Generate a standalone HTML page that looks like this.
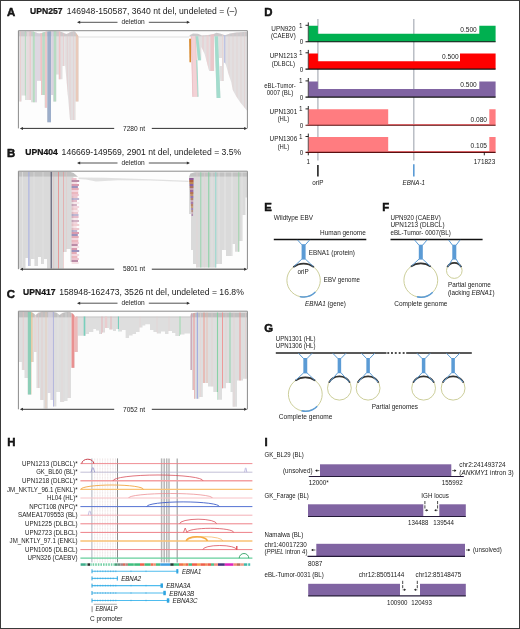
<!DOCTYPE html>
<html lang="en"><head><meta charset="utf-8"><title>EBV deletions figure</title>
<style>
html,body{margin:0;padding:0;background:#fff}
body{width:520px;height:629px;overflow:hidden}
svg{display:block;will-change:transform}
text{font-family:"Liberation Sans", Arial, Helvetica, sans-serif;fill:#1a1a1a}
</style></head><body>
<svg width="520" height="629" viewBox="0 0 520 629">
<rect x="0" y="0" width="520" height="629" fill="#fff"/>
<text x="7.00" y="16.40" font-size="11.4" font-weight="bold" fill="#000" stroke="#000" stroke-width="0.45">A</text>
<text x="30.10" y="14.00" font-size="8.2" font-weight="bold" textLength="32.40" lengthAdjust="spacingAndGlyphs" fill="#000" stroke="#000" stroke-width="0.22">UPN257</text>
<text x="66.70" y="14.00" font-size="8.2" textLength="170.50" lengthAdjust="spacingAndGlyphs"> 146948-150587, 3640 nt del, undeleted = (–)</text>
<line x1="78.50" y1="22.30" x2="117.50" y2="22.30" stroke="#333" stroke-width="0.85"/>
<line x1="148.80" y1="22.30" x2="188.50" y2="22.30" stroke="#333" stroke-width="0.85"/>
<path d="M77.00 22.30 l3.2 -1.5 v3 z" fill="#333"/>
<path d="M190.00 22.30 l-3.2 -1.5 v3 z" fill="#333"/>
<text x="133.15" y="24.20" font-size="6.4" text-anchor="middle" textLength="23.20" lengthAdjust="spacingAndGlyphs">deletion</text>
<rect x="18.40" y="30.70" width="229.00" height="97.70" fill="#fdfdfd"/>
<clipPath id="rc1"><path d="M18.40 36.20 L18.40 101.50 L21.70 101.50 L21.70 95.40 L25.50 95.40 L25.50 100.00 L31.00 100.00 L31.00 102.30 L37.00 102.30 L37.00 80.80 L41.00 80.80 L41.00 95.00 L44.80 95.00 L44.80 107.70 L47.00 107.70 L47.00 122.30 L51.00 122.30 L51.00 95.00 L53.20 95.00 L53.20 101.50 L56.30 101.50 L56.30 74.60 L58.60 74.60 L58.60 79.20 L62.50 79.20 L62.50 66.00 L64.80 66.00 L64.80 36.20 Z"/><path d="M64.80 36.20 L78.60 36.20 L78.60 101.50 L75.50 101.50 L75.50 120.00 L70.00 120.00 L67.40 90.00 L64.80 62.00 Z"/><path d="M191.00 36.20 L195.60 36.20 L197.80 96.80 L192.60 96.80 Z"/><path d="M195.40 36.20 L214.20 36.20 L214.20 71.00 L209.20 71.00 L204.60 54.00 L201.40 47.00 L201.20 60.20 L197.60 60.20 Z"/><path d="M214.60 36.20 L218.00 36.20 L220.40 98.00 L216.60 98.00 Z"/><path d="M218.00 36.20 L224.00 36.20 L224.00 81.00 L220.20 81.00 L219.60 66.00 L222.00 66.00 L222.00 58.00 L218.80 58.00 Z"/><path d="M224.00 36.20 L247.30 36.20 L247.30 111.00 L244.00 107.00 L240.00 102.00 L236.00 96.00 L232.80 90.00 L231.20 82.00 L228.50 74.00 L225.60 63.70 L224.00 62.30 Z"/><path d="M18.4 31.2 H30 Q33 31.2 36 32.4 Q39.5 34.6 43 32.4 Q46 31.2 52 31.2 H58 Q62 31.4 65 33.6 Q67 34.6 69.5 32.6 Q72 31.2 75 31.6 L78.6 36.4 H18.4 Z"/><path d="M189 36.4 L190 35 L193 33.4 L198 33.8 L202 35.6 L208 35 L213 34.2 L216.5 32.8 L220 33.6 L225 35.2 L230 33.6 L236 32.4 L247.3 31.8 V36.4 Z"/></clipPath>
<g fill="#e2dfe0"><path d="M18.40 36.20 L18.40 101.50 L21.70 101.50 L21.70 95.40 L25.50 95.40 L25.50 100.00 L31.00 100.00 L31.00 102.30 L37.00 102.30 L37.00 80.80 L41.00 80.80 L41.00 95.00 L44.80 95.00 L44.80 107.70 L47.00 107.70 L47.00 122.30 L51.00 122.30 L51.00 95.00 L53.20 95.00 L53.20 101.50 L56.30 101.50 L56.30 74.60 L58.60 74.60 L58.60 79.20 L62.50 79.20 L62.50 66.00 L64.80 66.00 L64.80 36.20 Z"/><path d="M64.80 36.20 L78.60 36.20 L78.60 101.50 L75.50 101.50 L75.50 120.00 L70.00 120.00 L67.40 90.00 L64.80 62.00 Z"/><path d="M191.00 36.20 L195.60 36.20 L197.80 96.80 L192.60 96.80 Z"/><path d="M195.40 36.20 L214.20 36.20 L214.20 71.00 L209.20 71.00 L204.60 54.00 L201.40 47.00 L201.20 60.20 L197.60 60.20 Z"/><path d="M214.60 36.20 L218.00 36.20 L220.40 98.00 L216.60 98.00 Z"/><path d="M218.00 36.20 L224.00 36.20 L224.00 81.00 L220.20 81.00 L219.60 66.00 L222.00 66.00 L222.00 58.00 L218.80 58.00 Z"/><path d="M224.00 36.20 L247.30 36.20 L247.30 111.00 L244.00 107.00 L240.00 102.00 L236.00 96.00 L232.80 90.00 L231.20 82.00 L228.50 74.00 L225.60 63.70 L224.00 62.30 Z"/></g>
<g fill="#cbc9cb"><path d="M18.4 31.2 H30 Q33 31.2 36 32.4 Q39.5 34.6 43 32.4 Q46 31.2 52 31.2 H58 Q62 31.4 65 33.6 Q67 34.6 69.5 32.6 Q72 31.2 75 31.6 L78.6 36.4 H18.4 Z"/><path d="M189 36.4 L190 35 L193 33.4 L198 33.8 L202 35.6 L208 35 L213 34.2 L216.5 32.8 L220 33.6 L225 35.2 L230 33.6 L236 32.4 L247.3 31.8 V36.4 Z"/></g>
<path d="M191.00 36.20 L195.60 36.20 L197.80 96.80 L192.60 96.80 Z" fill="#f3d2d6"/>
<line x1="191.20" y1="36.20" x2="192.80" y2="96.80" stroke="#eab4ba" stroke-width="0.6"/>
<line x1="195.60" y1="36.20" x2="197.60" y2="96.80" stroke="#eab4ba" stroke-width="0.5"/>
<path d="M195.60 36.20 L198.20 36.20 L201.00 60.20 L198.00 60.20 Z" fill="#a3dccd"/>
<path d="M196.20 60.00 L197.40 60.00 L198.60 96.80 L197.60 96.80 Z" fill="#a3dccd"/>
<path d="M214.60 36.20 L218.00 36.20 L220.40 98.00 L216.60 98.00 Z" fill="#a3dccd"/>
<path d="M189.10 38.70 L191.00 38.70 L191.00 62.30 L189.50 62.30 Z" fill="#d88a2e"/>
<g clip-path="url(#rc1)">
<rect x="20.25" y="30.70" width="0.70" height="97.70" fill="#efc0c2" fill-opacity="0.7"/>
<rect x="24.90" y="30.70" width="1.00" height="97.70" fill="#aedabc" fill-opacity="0.9"/>
<rect x="26.90" y="30.70" width="2.60" height="97.70" fill="#e8d8dc" fill-opacity="0.7"/>
<rect x="29.75" y="30.70" width="0.90" height="97.70" fill="#efc0c2" fill-opacity="0.9"/>
<rect x="32.80" y="30.70" width="2.00" height="97.70" fill="#aedabc" fill-opacity="0.85"/>
<rect x="35.00" y="30.70" width="5.20" height="97.70" fill="#d8cfe2" fill-opacity="0.55"/>
<rect x="40.30" y="30.70" width="1.80" height="97.70" fill="#efc0c2" fill-opacity="0.9"/>
<rect x="42.30" y="30.70" width="2.60" height="97.70" fill="#aedabc" fill-opacity="0.75"/>
<rect x="45.10" y="30.70" width="1.80" height="97.70" fill="#efc0c2" fill-opacity="0.85"/>
<rect x="47.40" y="30.70" width="3.60" height="97.70" fill="#8fa6c6" fill-opacity="0.85"/>
<rect x="51.40" y="30.70" width="2.20" height="97.70" fill="#d8cfe2" fill-opacity="0.9"/>
<rect x="53.70" y="30.70" width="2.60" height="97.70" fill="#aedabc" fill-opacity="0.85"/>
<rect x="58.80" y="30.70" width="1.60" height="97.70" fill="#efc0c2" fill-opacity="0.9"/>
<rect x="63.10" y="30.70" width="0.80" height="97.70" fill="#efc0c2" fill-opacity="0.6"/>
<rect x="66.80" y="30.70" width="0.80" height="97.70" fill="#e6c4c4" fill-opacity="0.7"/>
<rect x="69.65" y="30.70" width="0.70" height="97.70" fill="#e6c4c4" fill-opacity="0.6"/>
<rect x="73.05" y="30.70" width="0.70" height="97.70" fill="#e6c4c4" fill-opacity="0.6"/>
<rect x="75.80" y="30.70" width="2.80" height="97.70" fill="#ecbfa6" fill-opacity="0.65"/>
<rect x="210.40" y="30.70" width="3.60" height="97.70" fill="#eec0c4" fill-opacity="0.8"/>
<rect x="206.50" y="30.70" width="2.20" height="97.70" fill="#eecdd0" fill-opacity="0.7"/>
<rect x="202.50" y="30.70" width="1.00" height="97.70" fill="#efc0c2" fill-opacity="0.6"/>
<rect x="222.20" y="30.70" width="0.80" height="97.70" fill="#e8d0d0" fill-opacity="0.8"/>
<rect x="224.10" y="30.70" width="1.20" height="97.70" fill="#b4bce4" fill-opacity="0.9"/>
<rect x="228.65" y="30.70" width="0.70" height="97.70" fill="#e4cccc" fill-opacity="0.7"/>
<rect x="232.65" y="30.70" width="0.70" height="97.70" fill="#e4cccc" fill-opacity="0.7"/>
<rect x="236.65" y="30.70" width="0.70" height="97.70" fill="#e4cccc" fill-opacity="0.7"/>
<rect x="240.65" y="30.70" width="0.70" height="97.70" fill="#e4cccc" fill-opacity="0.7"/>
<rect x="244.25" y="30.70" width="0.70" height="97.70" fill="#e4cccc" fill-opacity="0.7"/>
</g>
<line x1="78.60" y1="37.00" x2="189.00" y2="37.00" stroke="#cfcfcf" stroke-width="0.6"/>
<path d="M18.40 128.40 V30.70 H247.40 V128.40" fill="none" stroke="#8a8a8a" stroke-width="1.0"/>
<line x1="21.30" y1="128.40" x2="114.20" y2="128.40" stroke="#333" stroke-width="1.0"/>
<line x1="151.80" y1="128.40" x2="245.80" y2="128.40" stroke="#333" stroke-width="1.0"/>
<path d="M19.80 128.40 l3.2 -1.5 v3 z" fill="#333"/>
<path d="M247.30 128.40 l-3.2 -1.5 v3 z" fill="#333"/>
<text x="134.00" y="130.65" font-size="6.8" text-anchor="middle" textLength="22.00" lengthAdjust="spacingAndGlyphs">7280 nt</text>
<text x="6.90" y="157.00" font-size="11.4" font-weight="bold" fill="#000" stroke="#000" stroke-width="0.45">B</text>
<text x="25.30" y="154.50" font-size="8.2" font-weight="bold" textLength="32.40" lengthAdjust="spacingAndGlyphs" fill="#000" stroke="#000" stroke-width="0.22">UPN404</text>
<text x="61.60" y="154.50" font-size="8.2" textLength="179.60" lengthAdjust="spacingAndGlyphs"> 146669-149569, 2901 nt del, undeleted = 3.5%</text>
<line x1="78.50" y1="163.00" x2="117.50" y2="163.00" stroke="#333" stroke-width="0.85"/>
<line x1="148.80" y1="163.00" x2="188.50" y2="163.00" stroke="#333" stroke-width="0.85"/>
<path d="M77.00 163.00 l3.2 -1.5 v3 z" fill="#333"/>
<path d="M190.00 163.00 l-3.2 -1.5 v3 z" fill="#333"/>
<text x="133.15" y="164.90" font-size="6.4" text-anchor="middle" textLength="23.20" lengthAdjust="spacingAndGlyphs">deletion</text>
<rect x="18.40" y="171.20" width="229.00" height="98.00" fill="#fdfdfd"/>
<clipPath id="rc2"><path d="M18.40 176.60 L18.40 268.60 L25.50 268.60 L25.50 258.00 L28.00 258.00 L28.00 266.00 L31.00 266.00 L31.00 259.00 L34.50 259.00 L34.50 266.00 L38.00 266.00 L38.00 257.00 L41.00 257.00 L41.00 264.00 L44.00 264.00 L44.00 259.00 L47.00 259.00 L47.00 268.60 L63.50 268.60 L63.50 252.00 L66.50 252.00 L66.50 249.00 L70.40 249.00 L70.40 262.00 L73.40 262.00 L73.40 176.60 Z"/><path d="M189.00 176.60 L189.00 214.00 L191.00 214.00 L191.00 250.00 L193.00 250.00 L193.00 264.00 L196.00 264.00 L196.00 267.60 L216.40 267.60 L216.40 264.00 L222.00 264.00 L222.00 250.00 L226.00 250.00 L226.00 256.00 L232.50 256.00 L232.50 244.00 L235.00 244.00 L235.00 251.80 L239.50 251.80 L239.50 241.00 L242.50 241.00 L242.50 215.00 L245.50 215.00 L245.50 197.50 L247.30 197.50 L247.30 176.60 Z"/><path d="M18.4 171.7 H70 L73.6 173 L78 176.8 H18.4 Z"/><path d="M189 176.8 L190.4 173.4 L195 172.2 H247.3 V176.8 Z"/></clipPath>
<g fill="#dadada"><path d="M18.40 176.60 L18.40 268.60 L25.50 268.60 L25.50 258.00 L28.00 258.00 L28.00 266.00 L31.00 266.00 L31.00 259.00 L34.50 259.00 L34.50 266.00 L38.00 266.00 L38.00 257.00 L41.00 257.00 L41.00 264.00 L44.00 264.00 L44.00 259.00 L47.00 259.00 L47.00 268.60 L63.50 268.60 L63.50 252.00 L66.50 252.00 L66.50 249.00 L70.40 249.00 L70.40 262.00 L73.40 262.00 L73.40 176.60 Z"/><path d="M189.00 176.60 L189.00 214.00 L191.00 214.00 L191.00 250.00 L193.00 250.00 L193.00 264.00 L196.00 264.00 L196.00 267.60 L216.40 267.60 L216.40 264.00 L222.00 264.00 L222.00 250.00 L226.00 250.00 L226.00 256.00 L232.50 256.00 L232.50 244.00 L235.00 244.00 L235.00 251.80 L239.50 251.80 L239.50 241.00 L242.50 241.00 L242.50 215.00 L245.50 215.00 L245.50 197.50 L247.30 197.50 L247.30 176.60 Z"/></g>
<g fill="#c2c2c2"><path d="M18.4 171.7 H70 L73.6 173 L78 176.8 H18.4 Z"/><path d="M189 176.8 L190.4 173.4 L195 172.2 H247.3 V176.8 Z"/></g>
<path d="M78.5 177.4 L104 177.8 L150 179.2 L188.5 180.8 L188.5 182 L150 180.6 L118 180.2 L96 181.6 L86 179.6 L78.5 179 Z" fill="#dcdcdc" fill-opacity="0.85"/>
<rect x="71.6" y="178.0" width="5.0" height="2.0" fill="#ecbcc9" fill-opacity="0.9"/>
<rect x="71.6" y="180.0" width="7.6" height="2.0" fill="#b5819f" fill-opacity="0.9"/>
<rect x="71.6" y="182.0" width="5.7" height="2.0" fill="#f4dde1" fill-opacity="0.9"/>
<rect x="71.6" y="184.0" width="7.4" height="2.0" fill="#d590a6" fill-opacity="0.9"/>
<rect x="71.6" y="186.0" width="6.3" height="2.0" fill="#9487b6" fill-opacity="0.9"/>
<rect x="71.6" y="188.0" width="7.1" height="2.0" fill="#e2a3af" fill-opacity="0.9"/>
<rect x="71.6" y="190.0" width="6.8" height="2.0" fill="#f3d3db" fill-opacity="0.9"/>
<rect x="71.6" y="192.0" width="6.6" height="2.0" fill="#eab0b8" fill-opacity="0.9"/>
<rect x="71.6" y="194.0" width="7.2" height="2.0" fill="#ecbcc9" fill-opacity="0.9"/>
<rect x="71.6" y="196.0" width="6.0" height="2.0" fill="#e2a3af" fill-opacity="0.6"/>
<rect x="71.6" y="198.0" width="7.5" height="2.0" fill="#9487b6" fill-opacity="0.6"/>
<rect x="71.6" y="200.0" width="5.4" height="2.0" fill="#d590a6" fill-opacity="0.6"/>
<rect x="71.6" y="202.0" width="7.6" height="2.0" fill="#f4dde1" fill-opacity="0.6"/>
<rect x="71.6" y="204.0" width="5.3" height="2.0" fill="#b5819f" fill-opacity="0.6"/>
<rect x="71.6" y="206.0" width="7.5" height="2.0" fill="#ecbcc9" fill-opacity="0.6"/>
<rect x="71.6" y="208.0" width="5.9" height="2.0" fill="#eab0b8" fill-opacity="0.6"/>
<rect x="71.6" y="210.0" width="7.3" height="2.0" fill="#f3d3db" fill-opacity="0.6"/>
<rect x="71.6" y="212.0" width="6.5" height="2.0" fill="#e2a3af" fill-opacity="0.6"/>
<rect x="71.6" y="214.0" width="6.9" height="2.0" fill="#9487b6" fill-opacity="0.6"/>
<rect x="71.6" y="216.0" width="7.0" height="2.0" fill="#d590a6" fill-opacity="0.6"/>
<rect x="71.6" y="218.0" width="6.4" height="2.0" fill="#f4dde1" fill-opacity="0.6"/>
<rect x="71.6" y="220.0" width="7.4" height="2.0" fill="#b5819f" fill-opacity="0.6"/>
<rect x="71.6" y="222.0" width="5.8" height="2.0" fill="#ecbcc9" fill-opacity="0.6"/>
<rect x="71.6" y="224.0" width="7.6" height="2.0" fill="#eab0b8" fill-opacity="0.6"/>
<rect x="71.6" y="226.0" width="5.1" height="2.0" fill="#f3d3db" fill-opacity="0.6"/>
<rect x="71.6" y="228.0" width="7.6" height="2.0" fill="#e2a3af" fill-opacity="0.6"/>
<rect x="71.6" y="230.0" width="5.6" height="2.0" fill="#9487b6" fill-opacity="0.6"/>
<rect x="71.6" y="232.0" width="7.4" height="2.0" fill="#d590a6" fill-opacity="0.9"/>
<rect x="71.6" y="234.0" width="6.2" height="2.0" fill="#9487b6" fill-opacity="0.9"/>
<rect x="71.6" y="236.0" width="7.1" height="2.0" fill="#e2a3af" fill-opacity="0.9"/>
<rect x="71.6" y="238.0" width="6.7" height="2.0" fill="#f3d3db" fill-opacity="0.9"/>
<rect x="71.6" y="240.0" width="6.7" height="2.0" fill="#eab0b8" fill-opacity="0.9"/>
<rect x="71.6" y="242.0" width="7.2" height="2.0" fill="#ecbcc9" fill-opacity="0.9"/>
<rect x="71.6" y="244.0" width="6.1" height="2.0" fill="#b5819f" fill-opacity="0.9"/>
<rect x="71.6" y="246.0" width="7.5" height="2.0" fill="#f4dde1" fill-opacity="0.9"/>
<rect x="71.6" y="248.0" width="5.5" height="2.0" fill="#d590a6" fill-opacity="0.9"/>
<rect x="71.6" y="250.0" width="7.6" height="2.0" fill="#9487b6" fill-opacity="0.9"/>
<rect x="71.6" y="252.0" width="5.2" height="2.0" fill="#e2a3af" fill-opacity="0.9"/>
<rect x="71.6" y="254.0" width="7.5" height="2.0" fill="#f3d3db" fill-opacity="0.9"/>
<rect x="71.6" y="256.0" width="5.8" height="2.0" fill="#eab0b8" fill-opacity="0.9"/>
<rect x="71.6" y="258.0" width="7.3" height="2.0" fill="#ecbcc9" fill-opacity="0.9"/>
<rect x="71.6" y="260.0" width="6.4" height="2.0" fill="#b5819f" fill-opacity="0.9"/>
<rect x="71.6" y="262.0" width="7.0" height="2.0" fill="#f4dde1" fill-opacity="0.9"/>
<rect x="189.20" y="178.0" width="4.4" height="2.0" fill="#8a4a8e" fill-opacity="0.90"/>
<rect x="189.33" y="180.0" width="4.2" height="2.0" fill="#a8502c" fill-opacity="0.88"/>
<rect x="189.46" y="182.0" width="4.1" height="2.0" fill="#b8783f" fill-opacity="0.86"/>
<rect x="189.59" y="184.0" width="3.9" height="2.0" fill="#7a4a9a" fill-opacity="0.84"/>
<rect x="189.72" y="186.0" width="3.8" height="2.0" fill="#a05a40" fill-opacity="0.82"/>
<rect x="189.85" y="188.0" width="3.6" height="2.0" fill="#c090a4" fill-opacity="0.80"/>
<rect x="189.98" y="190.0" width="3.4" height="2.0" fill="#8a4a8e" fill-opacity="0.78"/>
<rect x="190.11" y="192.0" width="3.3" height="2.0" fill="#a8502c" fill-opacity="0.76"/>
<rect x="190.24" y="194.0" width="3.1" height="2.0" fill="#b8783f" fill-opacity="0.74"/>
<rect x="190.37" y="196.0" width="3.0" height="2.0" fill="#7a4a9a" fill-opacity="0.72"/>
<rect x="190.50" y="198.0" width="2.8" height="2.0" fill="#a05a40" fill-opacity="0.70"/>
<rect x="190.63" y="200.0" width="2.6" height="2.0" fill="#c090a4" fill-opacity="0.68"/>
<rect x="190.76" y="202.0" width="2.5" height="2.0" fill="#8a4a8e" fill-opacity="0.66"/>
<rect x="190.89" y="204.0" width="2.3" height="2.0" fill="#a8502c" fill-opacity="0.64"/>
<rect x="191.02" y="206.0" width="2.2" height="2.0" fill="#b8783f" fill-opacity="0.62"/>
<rect x="191.15" y="208.0" width="2.0" height="2.0" fill="#7a4a9a" fill-opacity="0.60"/>
<rect x="191.28" y="210.0" width="1.8" height="2.0" fill="#a05a40" fill-opacity="0.58"/>
<rect x="191.41" y="212.0" width="1.7" height="2.0" fill="#c090a4" fill-opacity="0.56"/>
<rect x="191.54" y="214.0" width="1.5" height="2.0" fill="#8a4a8e" fill-opacity="0.54"/>
<g clip-path="url(#rc2)">
<rect x="28.45" y="171.20" width="0.90" height="98.00" fill="#9fa9e6" fill-opacity="0.95"/>
<rect x="50.70" y="171.20" width="1.00" height="98.00" fill="#3a3a58" fill-opacity="0.9"/>
<rect x="53.50" y="171.20" width="0.60" height="98.00" fill="#e6b3b3" fill-opacity="0.7"/>
<rect x="58.20" y="171.20" width="0.80" height="98.00" fill="#e77" fill-opacity="0.8"/>
<rect x="63.05" y="171.20" width="0.70" height="98.00" fill="#e88" fill-opacity="0.7"/>
<rect x="66.20" y="171.20" width="0.60" height="98.00" fill="#efc0c2" fill-opacity="0.6"/>
<rect x="22.20" y="171.20" width="0.60" height="98.00" fill="#e9e9e9" fill-opacity="0.9"/>
<rect x="33.70" y="171.20" width="0.60" height="98.00" fill="#e6e6e6" fill-opacity="0.9"/>
<rect x="42.70" y="171.20" width="0.60" height="98.00" fill="#e6e6e6" fill-opacity="0.9"/>
<rect x="200.35" y="171.20" width="0.90" height="98.00" fill="#8ad4a4" fill-opacity="0.9"/>
<rect x="208.35" y="171.20" width="0.90" height="98.00" fill="#77cf98" fill-opacity="0.95"/>
<rect x="215.35" y="171.20" width="0.90" height="98.00" fill="#86d8ca" fill-opacity="0.95"/>
<rect x="238.35" y="171.20" width="0.90" height="98.00" fill="#8fd3a0" fill-opacity="0.9"/>
<rect x="196.70" y="171.20" width="0.60" height="98.00" fill="#e6cfcf" fill-opacity="0.7"/>
<rect x="204.30" y="171.20" width="0.60" height="98.00" fill="#e6cfcf" fill-opacity="0.6"/>
<rect x="211.70" y="171.20" width="0.60" height="98.00" fill="#e6e6e6" fill-opacity="0.9"/>
<rect x="218.70" y="171.20" width="0.60" height="98.00" fill="#ececec" fill-opacity="0.9"/>
<rect x="224.65" y="171.20" width="0.70" height="98.00" fill="#ececec" fill-opacity="0.9"/>
<rect x="231.65" y="171.20" width="0.70" height="98.00" fill="#ececec" fill-opacity="0.9"/>
<rect x="241.70" y="171.20" width="0.60" height="98.00" fill="#ececec" fill-opacity="0.9"/>
</g>
<path d="M18.40 269.20 V171.20 H247.40 V269.20" fill="none" stroke="#8a8a8a" stroke-width="1.0"/>
<line x1="21.30" y1="269.20" x2="114.20" y2="269.20" stroke="#333" stroke-width="1.0"/>
<line x1="151.80" y1="269.20" x2="245.80" y2="269.20" stroke="#333" stroke-width="1.0"/>
<path d="M19.80 269.20 l3.2 -1.5 v3 z" fill="#333"/>
<path d="M247.30 269.20 l-3.2 -1.5 v3 z" fill="#333"/>
<text x="134.00" y="271.45" font-size="6.8" text-anchor="middle" textLength="22.00" lengthAdjust="spacingAndGlyphs">5801 nt</text>
<text x="6.80" y="297.60" font-size="11.4" font-weight="bold" fill="#000" stroke="#000" stroke-width="0.45">C</text>
<text x="23.10" y="294.50" font-size="8.2" font-weight="bold" textLength="32.30" lengthAdjust="spacingAndGlyphs" fill="#000" stroke="#000" stroke-width="0.22">UPN417</text>
<text x="59.20" y="294.50" font-size="8.2" textLength="184.60" lengthAdjust="spacingAndGlyphs"> 158948-162473, 3526 nt del, undeleted = 16.8%</text>
<line x1="78.50" y1="303.20" x2="117.50" y2="303.20" stroke="#333" stroke-width="0.85"/>
<line x1="148.80" y1="303.20" x2="188.50" y2="303.20" stroke="#333" stroke-width="0.85"/>
<path d="M77.00 303.20 l3.2 -1.5 v3 z" fill="#333"/>
<path d="M190.00 303.20 l-3.2 -1.5 v3 z" fill="#333"/>
<text x="133.15" y="305.10" font-size="6.4" text-anchor="middle" textLength="23.20" lengthAdjust="spacingAndGlyphs">deletion</text>
<rect x="18.40" y="311.20" width="229.00" height="98.10" fill="#fdfdfd"/>
<clipPath id="rc3"><path d="M18.40 317.20 L18.40 362.00 L21.80 362.00 L21.80 370.00 L24.50 370.00 L24.50 378.00 L27.60 378.00 L27.60 394.60 L31.40 394.60 L31.40 362.00 L34.00 362.00 L34.00 352.00 L36.50 352.00 L36.50 388.00 L40.00 388.00 L40.00 400.00 L43.50 400.00 L43.50 408.40 L47.80 408.40 L47.80 393.00 L50.50 393.00 L50.50 400.00 L53.00 400.00 L53.00 406.60 L56.40 406.60 L56.40 392.00 L60.00 392.00 L60.00 402.00 L64.20 402.00 L64.20 401.00 L67.50 401.00 L67.50 398.00 L71.00 398.00 L71.00 367.80 L74.60 367.80 L74.60 352.00 L78.00 352.00 L78.00 335.80 L83.20 335.80 L83.20 335.80 L85.80 335.80 L85.80 334.00 L89.00 334.00 L89.00 332.00 L93.30 332.00 L93.30 329.00 L96.00 329.00 L96.00 330.60 L99.00 330.60 L99.00 334.00 L102.00 334.00 L102.00 332.60 L105.00 332.60 L105.00 328.00 L109.00 328.00 L109.00 329.60 L113.00 329.60 L113.00 331.00 L116.00 331.00 L116.00 329.00 L118.70 329.00 L118.70 331.60 L122.00 331.60 L122.00 330.00 L125.60 330.00 L125.60 338.00 L129.00 338.00 L129.00 335.40 L132.60 335.40 L132.60 334.00 L136.00 334.00 L136.00 332.00 L139.50 332.00 L139.50 327.40 L142.50 327.40 L142.50 325.60 L145.30 325.60 L145.30 324.20 L150.00 324.20 L150.00 330.00 L153.40 330.00 L153.40 332.00 L156.80 332.00 L156.80 333.60 L161.00 333.60 L161.00 331.60 L165.00 331.60 L165.00 334.00 L168.40 334.00 L168.40 331.00 L172.00 331.00 L172.00 333.00 L175.30 333.00 L175.30 336.00 L180.00 336.00 L180.00 334.60 L184.50 334.60 L184.50 333.40 L190.00 333.40 L190.00 370.00 L192.00 370.00 L192.00 390.00 L194.00 390.00 L194.00 398.80 L199.30 398.80 L199.30 397.00 L202.80 397.00 L202.80 383.00 L208.00 383.00 L208.00 386.50 L213.30 386.50 L213.30 392.00 L217.60 392.00 L217.60 399.70 L222.00 399.70 L222.00 388.30 L225.90 388.30 L225.90 383.00 L230.80 383.00 L230.80 392.00 L232.50 392.00 L232.50 406.70 L237.00 406.70 L237.00 380.40 L243.00 380.40 L243.00 378.70 L247.30 378.70 L247.30 317.20 Z"/><path d="M18.4 311.8 H29 Q33 312 35.5 315.2 Q38 312.2 42 311.8 H53 Q57 312 59.5 315 Q62 312.4 66 312 H70 L73 314 L76 317.4 H18.4 Z"/><path d="M76 316.4 H190 V317.4 H76 Z"/><path d="M190 317.4 L191 313.4 L197 312.4 H247.3 V317.4 Z"/></clipPath>
<g fill="#dedede"><path d="M18.40 317.20 L18.40 362.00 L21.80 362.00 L21.80 370.00 L24.50 370.00 L24.50 378.00 L27.60 378.00 L27.60 394.60 L31.40 394.60 L31.40 362.00 L34.00 362.00 L34.00 352.00 L36.50 352.00 L36.50 388.00 L40.00 388.00 L40.00 400.00 L43.50 400.00 L43.50 408.40 L47.80 408.40 L47.80 393.00 L50.50 393.00 L50.50 400.00 L53.00 400.00 L53.00 406.60 L56.40 406.60 L56.40 392.00 L60.00 392.00 L60.00 402.00 L64.20 402.00 L64.20 401.00 L67.50 401.00 L67.50 398.00 L71.00 398.00 L71.00 367.80 L74.60 367.80 L74.60 352.00 L78.00 352.00 L78.00 335.80 L83.20 335.80 L83.20 335.80 L85.80 335.80 L85.80 334.00 L89.00 334.00 L89.00 332.00 L93.30 332.00 L93.30 329.00 L96.00 329.00 L96.00 330.60 L99.00 330.60 L99.00 334.00 L102.00 334.00 L102.00 332.60 L105.00 332.60 L105.00 328.00 L109.00 328.00 L109.00 329.60 L113.00 329.60 L113.00 331.00 L116.00 331.00 L116.00 329.00 L118.70 329.00 L118.70 331.60 L122.00 331.60 L122.00 330.00 L125.60 330.00 L125.60 338.00 L129.00 338.00 L129.00 335.40 L132.60 335.40 L132.60 334.00 L136.00 334.00 L136.00 332.00 L139.50 332.00 L139.50 327.40 L142.50 327.40 L142.50 325.60 L145.30 325.60 L145.30 324.20 L150.00 324.20 L150.00 330.00 L153.40 330.00 L153.40 332.00 L156.80 332.00 L156.80 333.60 L161.00 333.60 L161.00 331.60 L165.00 331.60 L165.00 334.00 L168.40 334.00 L168.40 331.00 L172.00 331.00 L172.00 333.00 L175.30 333.00 L175.30 336.00 L180.00 336.00 L180.00 334.60 L184.50 334.60 L184.50 333.40 L190.00 333.40 L190.00 370.00 L192.00 370.00 L192.00 390.00 L194.00 390.00 L194.00 398.80 L199.30 398.80 L199.30 397.00 L202.80 397.00 L202.80 383.00 L208.00 383.00 L208.00 386.50 L213.30 386.50 L213.30 392.00 L217.60 392.00 L217.60 399.70 L222.00 399.70 L222.00 388.30 L225.90 388.30 L225.90 383.00 L230.80 383.00 L230.80 392.00 L232.50 392.00 L232.50 406.70 L237.00 406.70 L237.00 380.40 L243.00 380.40 L243.00 378.70 L247.30 378.70 L247.30 317.20 Z"/></g>
<g fill="#c0c0c0"><path d="M18.4 311.8 H29 Q33 312 35.5 315.2 Q38 312.2 42 311.8 H53 Q57 312 59.5 315 Q62 312.4 66 312 H70 L73 314 L76 317.4 H18.4 Z"/><path d="M76 316.4 H190 V317.4 H76 Z"/><path d="M190 317.4 L191 313.4 L197 312.4 H247.3 V317.4 Z"/></g>
<g clip-path="url(#rc3)">
<rect x="27.80" y="311.20" width="3.20" height="98.10" fill="#84ccb2" fill-opacity="0.9"/>
<rect x="31.45" y="311.20" width="0.90" height="98.10" fill="#f2b870" fill-opacity="0.9"/>
<rect x="22.85" y="311.20" width="0.70" height="98.10" fill="#efc0c2" fill-opacity="0.7"/>
<rect x="34.60" y="311.20" width="1.60" height="98.10" fill="#ecd4d4" fill-opacity="0.7"/>
<rect x="38.25" y="311.20" width="0.70" height="98.10" fill="#e6c0c0" fill-opacity="0.7"/>
<rect x="41.65" y="311.20" width="0.70" height="98.10" fill="#e6c0c0" fill-opacity="0.7"/>
<rect x="45.60" y="311.20" width="0.80" height="98.10" fill="#ecc4ae" fill-opacity="0.8"/>
<rect x="48.10" y="311.20" width="4.60" height="98.10" fill="#dcd6e6" fill-opacity="0.6"/>
<rect x="52.95" y="311.20" width="0.90" height="98.10" fill="#a9acdc" fill-opacity="0.9"/>
<rect x="57.70" y="311.20" width="0.60" height="98.10" fill="#e8e8e8" fill-opacity="0.9"/>
<rect x="61.70" y="311.20" width="0.60" height="98.10" fill="#e6d0d0" fill-opacity="0.7"/>
<rect x="65.70" y="311.20" width="0.60" height="98.10" fill="#e8e8e8" fill-opacity="0.8"/>
<rect x="68.70" y="311.20" width="0.60" height="98.10" fill="#e6d0d0" fill-opacity="0.7"/>
<rect x="71.20" y="311.20" width="6.40" height="98.10" fill="#f0b2b2" fill-opacity="0.85"/>
<rect x="72.20" y="311.20" width="1.60" height="98.10" fill="#e57777" fill-opacity="0.75"/>
<rect x="83.70" y="311.20" width="1.60" height="98.10" fill="#72cdb9" fill-opacity="0.95"/>
<rect x="101.55" y="311.20" width="0.90" height="98.10" fill="#eba2aa" fill-opacity="0.8"/>
<rect x="104.80" y="311.20" width="2.40" height="98.10" fill="#f0c4c8" fill-opacity="0.7"/>
<rect x="110.60" y="311.20" width="0.80" height="98.10" fill="#eba2aa" fill-opacity="0.8"/>
<rect x="117.90" y="311.20" width="1.00" height="98.10" fill="#62c9b4" fill-opacity="0.9"/>
<rect x="179.50" y="311.20" width="1.00" height="98.10" fill="#8fd6a6" fill-opacity="0.9"/>
<rect x="139.70" y="311.20" width="0.60" height="98.10" fill="#e6cccc" fill-opacity="0.7"/>
<rect x="156.70" y="311.20" width="0.60" height="98.10" fill="#e6cccc" fill-opacity="0.7"/>
<rect x="168.70" y="311.20" width="0.60" height="98.10" fill="#e6cccc" fill-opacity="0.7"/>
<rect x="190.70" y="311.20" width="1.40" height="98.10" fill="#cba4b6" fill-opacity="0.9"/>
<rect x="193.50" y="311.20" width="1.00" height="98.10" fill="#ee8c8c" fill-opacity="0.9"/>
<rect x="196.80" y="311.20" width="1.00" height="98.10" fill="#8f9be0" fill-opacity="0.9"/>
<rect x="203.50" y="311.20" width="1.00" height="98.10" fill="#f0958a" fill-opacity="0.9"/>
<rect x="206.60" y="311.20" width="0.80" height="98.10" fill="#f0b4a4" fill-opacity="0.8"/>
<rect x="200.30" y="311.20" width="0.60" height="98.10" fill="#e8cfcf" fill-opacity="0.8"/>
<rect x="216.95" y="311.20" width="1.10" height="98.10" fill="#7fd0a0" fill-opacity="0.9"/>
<rect x="222.00" y="311.20" width="1.00" height="98.10" fill="#ee9292" fill-opacity="0.9"/>
<rect x="229.50" y="311.20" width="1.00" height="98.10" fill="#86d3a6" fill-opacity="0.9"/>
<rect x="239.50" y="311.20" width="1.00" height="98.10" fill="#ee9090" fill-opacity="0.9"/>
<rect x="211.70" y="311.20" width="0.60" height="98.10" fill="#e6cccc" fill-opacity="0.8"/>
<rect x="225.70" y="311.20" width="0.60" height="98.10" fill="#e6cccc" fill-opacity="0.8"/>
<rect x="233.70" y="311.20" width="0.60" height="98.10" fill="#e6cccc" fill-opacity="0.8"/>
<rect x="245.20" y="311.20" width="0.60" height="98.10" fill="#e9c8c8" fill-opacity="0.8"/>
</g>
<path d="M18.40 409.30 V311.20 H247.40 V409.30" fill="none" stroke="#8a8a8a" stroke-width="1.0"/>
<line x1="21.30" y1="409.30" x2="114.20" y2="409.30" stroke="#333" stroke-width="1.0"/>
<line x1="151.80" y1="409.30" x2="245.80" y2="409.30" stroke="#333" stroke-width="1.0"/>
<path d="M19.80 409.30 l3.2 -1.5 v3 z" fill="#333"/>
<path d="M247.30 409.30 l-3.2 -1.5 v3 z" fill="#333"/>
<text x="134.00" y="411.55" font-size="6.8" text-anchor="middle" textLength="22.00" lengthAdjust="spacingAndGlyphs">7052 nt</text>
<text x="264.30" y="16.00" font-size="11.4" font-weight="bold" fill="#000" stroke="#000" stroke-width="0.45">D</text>
<line x1="317.90" y1="19.00" x2="317.90" y2="160.50" stroke="#b0b4bc" stroke-width="1.3"/>
<line x1="413.80" y1="19.00" x2="413.80" y2="160.50" stroke="#b0b4bc" stroke-width="1.3"/>
<path d="M305.50 25.30 H308.30 M308.30 22.40 V41.80" fill="none" stroke="#111" stroke-width="0.9"/>
<text x="302.50" y="27.67" font-size="6.3" text-anchor="end">1</text>
<text x="303.30" y="44.27" font-size="6.3" text-anchor="end">0</text>
<text x="283.40" y="30.57" font-size="6.3" text-anchor="middle" textLength="24.20" lengthAdjust="spacingAndGlyphs">UPN920</text>
<text x="283.40" y="38.37" font-size="6.3" text-anchor="middle" textLength="24.60" lengthAdjust="spacingAndGlyphs">(CAEBV)</text>
<path d="M308.70 41.80 V25.80 H317.90 V33.80 H479.30 V25.80 H495.60 V41.80 Z" fill="#00b050"/>
<line x1="305.50" y1="41.80" x2="495.60" y2="41.80" stroke="#111" stroke-width="1.1"/>
<rect x="458.70" y="26.00" width="18.50" height="7.00" fill="#fff"/>
<text x="476.80" y="31.87" font-size="6.3" text-anchor="end" textLength="16.50" lengthAdjust="spacingAndGlyphs">0.500</text>
<path d="M305.50 52.80 H308.30 M308.30 49.90 V69.10" fill="none" stroke="#111" stroke-width="0.9"/>
<text x="302.50" y="55.17" font-size="6.3" text-anchor="end">1</text>
<text x="303.30" y="71.57" font-size="6.3" text-anchor="end">0</text>
<text x="283.40" y="58.37" font-size="6.3" text-anchor="middle" textLength="27.40" lengthAdjust="spacingAndGlyphs">UPN1213</text>
<text x="283.40" y="65.87" font-size="6.3" text-anchor="middle" textLength="23.40" lengthAdjust="spacingAndGlyphs">(DLBCL)</text>
<path d="M308.70 69.10 V53.50 H317.90 V61.20 H460.00 V53.50 H495.60 V69.10 Z" fill="#ff0000"/>
<line x1="305.50" y1="69.10" x2="495.60" y2="69.10" stroke="#111" stroke-width="1.1"/>
<rect x="440.50" y="53.00" width="18.50" height="7.00" fill="#fff"/>
<text x="458.60" y="58.87" font-size="6.3" text-anchor="end" textLength="16.50" lengthAdjust="spacingAndGlyphs">0.500</text>
<path d="M305.50 80.90 H308.30 M308.30 78.00 V97.10" fill="none" stroke="#111" stroke-width="0.9"/>
<text x="302.50" y="83.27" font-size="6.3" text-anchor="end">1</text>
<text x="303.30" y="99.57" font-size="6.3" text-anchor="end">0</text>
<text x="280.00" y="88.07" font-size="6.3" text-anchor="middle" textLength="31.40" lengthAdjust="spacingAndGlyphs">eBL-Tumor-</text>
<text x="280.00" y="95.47" font-size="6.3" text-anchor="middle" textLength="26.60" lengthAdjust="spacingAndGlyphs">0007 (BL)</text>
<path d="M308.70 97.10 V81.50 H317.90 V89.00 H479.30 V81.50 H495.60 V97.10 Z" fill="#8064a2"/>
<line x1="305.50" y1="97.10" x2="495.60" y2="97.10" stroke="#111" stroke-width="1.1"/>
<rect x="458.70" y="81.00" width="18.50" height="7.00" fill="#fff"/>
<text x="476.80" y="86.87" font-size="6.3" text-anchor="end" textLength="16.50" lengthAdjust="spacingAndGlyphs">0.500</text>
<path d="M305.50 108.90 H308.30 M308.30 106.00 V125.20" fill="none" stroke="#111" stroke-width="0.9"/>
<text x="302.50" y="111.27" font-size="6.3" text-anchor="end">1</text>
<text x="303.30" y="127.67" font-size="6.3" text-anchor="end">0</text>
<text x="283.40" y="114.07" font-size="6.3" text-anchor="middle" textLength="27.60" lengthAdjust="spacingAndGlyphs">UPN1301</text>
<text x="283.40" y="121.37" font-size="6.3" text-anchor="middle" textLength="11.50" lengthAdjust="spacingAndGlyphs">(HL)</text>
<path d="M308.70 125.20 V109.30 H388.2 V125.20 Z M489.3 125.20 V109.30 H495.60 V125.20 Z M307.90 123.90 H495.60 V125.20 H307.90 Z" fill="#ff7c80"/>
<line x1="305.50" y1="125.20" x2="495.60" y2="125.20" stroke="#5a1010" stroke-width="1.1"/>
<rect x="468.90" y="115.70" width="18.50" height="7.00" fill="#fff"/>
<text x="487.00" y="121.57" font-size="6.3" text-anchor="end" textLength="16.50" lengthAdjust="spacingAndGlyphs">0.080</text>
<path d="M305.50 136.50 H308.30 M308.30 133.60 V152.40" fill="none" stroke="#111" stroke-width="0.9"/>
<text x="302.50" y="138.87" font-size="6.3" text-anchor="end">1</text>
<text x="303.30" y="154.87" font-size="6.3" text-anchor="end">0</text>
<text x="283.40" y="141.47" font-size="6.3" text-anchor="middle" textLength="27.60" lengthAdjust="spacingAndGlyphs">UPN1306</text>
<text x="283.40" y="148.67" font-size="6.3" text-anchor="middle" textLength="11.50" lengthAdjust="spacingAndGlyphs">(HL)</text>
<path d="M308.70 152.40 V137.00 H388.2 V152.40 Z M489.3 152.40 V137.00 H495.60 V152.40 Z M307.90 151.10 H495.60 V152.40 H307.90 Z" fill="#ff7c80"/>
<line x1="305.50" y1="152.40" x2="495.60" y2="152.40" stroke="#5a1010" stroke-width="1.1"/>
<rect x="468.90" y="142.20" width="18.50" height="7.00" fill="#fff"/>
<text x="487.00" y="148.07" font-size="6.3" text-anchor="end" textLength="16.50" lengthAdjust="spacingAndGlyphs">0.105</text>
<line x1="484.30" y1="152.40" x2="484.30" y2="155.30" stroke="#111" stroke-width="0.9"/>
<line x1="308.30" y1="152.40" x2="308.30" y2="155.30" stroke="#111" stroke-width="0.9"/>
<text x="306.40" y="164.07" font-size="6.3">1</text>
<text x="495.20" y="164.07" font-size="6.3" text-anchor="end" textLength="21.40" lengthAdjust="spacingAndGlyphs">171823</text>
<line x1="317.90" y1="165.00" x2="317.90" y2="176.40" stroke="#222" stroke-width="1.6"/>
<line x1="413.80" y1="164.30" x2="413.80" y2="176.40" stroke="#5b9bd5" stroke-width="1.6"/>
<text x="317.80" y="185.27" font-size="6.3" text-anchor="middle">oriP</text>
<text x="413.80" y="184.87" font-size="6.3" text-anchor="middle" font-style="italic" textLength="22.50" lengthAdjust="spacingAndGlyphs">EBNA-1</text>
<text x="264.30" y="211.00" font-size="11.4" font-weight="bold" fill="#000" stroke="#000" stroke-width="0.45">E</text>
<text x="273.80" y="220.27" font-size="6.3" textLength="39.20" lengthAdjust="spacingAndGlyphs">Wildtype EBV</text>
<text x="320.00" y="234.97" font-size="6.3" textLength="45.80" lengthAdjust="spacingAndGlyphs">Human genome</text>
<line x1="273.80" y1="239.50" x2="366.30" y2="239.50" stroke="#111" stroke-width="1.3"/>
<circle cx="303.60" cy="280.30" r="16.70" fill="none" stroke="#c6c88e" stroke-width="0.9"/>
<path d="M315.41 292.11 A16.70 16.70 0 0 1 299.84 296.57" fill="none" stroke="#5b9bd5" stroke-width="1.4"/>
<path d="M293.32 267.14 A16.70 16.70 0 0 1 313.88 267.14" fill="none" stroke="#333" stroke-width="1.7"/>
<path d="M297.50 239.90 L301.90 244.80 M309.70 239.90 L305.30 244.80" fill="none" stroke="#5b9bd5" stroke-width="1.0"/>
<path d="M301.90 259.00 L293.92 266.54 M305.30 259.00 L313.28 266.54" fill="none" stroke="#5b9bd5" stroke-width="1.0"/>
<rect x="301.60" y="244.20" width="4.00" height="15.40" fill="#5b9bd5"/>
<text x="303.00" y="273.67" font-size="6.3" text-anchor="middle">oriP</text>
<text x="308.80" y="255.27" font-size="6.3" textLength="46.20" lengthAdjust="spacingAndGlyphs">EBNA1 (protein)</text>
<text x="323.80" y="281.77" font-size="6.3" textLength="36.20" lengthAdjust="spacingAndGlyphs">EBV genome</text>
<text x="305.00" y="306.07" font-size="6.3" textLength="40.80" lengthAdjust="spacingAndGlyphs"><tspan font-style="italic">EBNA1</tspan> (gene)</text>
<text x="382.30" y="211.00" font-size="11.4" font-weight="bold" fill="#000" stroke="#000" stroke-width="0.45">F</text>
<text x="390.50" y="220.27" font-size="6.3" textLength="50.20" lengthAdjust="spacingAndGlyphs">UPN920 (CAEBV)</text>
<text x="390.50" y="227.37" font-size="6.3" textLength="54.00" lengthAdjust="spacingAndGlyphs">UPN1213 (DLBCL)</text>
<text x="390.50" y="234.67" font-size="6.3" textLength="60.20" lengthAdjust="spacingAndGlyphs">eBL-Tumor- 0007(BL)</text>
<line x1="390.50" y1="239.50" x2="482.60" y2="239.50" stroke="#111" stroke-width="1.3"/>
<circle cx="420.80" cy="280.30" r="16.90" fill="none" stroke="#c6c88e" stroke-width="0.9"/>
<path d="M432.75 292.25 A16.90 16.90 0 0 1 417.00 296.77" fill="none" stroke="#5b9bd5" stroke-width="1.4"/>
<path d="M410.87 266.63 A16.90 16.90 0 0 1 430.73 266.63" fill="none" stroke="#333" stroke-width="1.7"/>
<path d="M414.50 239.90 L419.10 245.30 M427.10 239.90 L422.50 245.30" fill="none" stroke="#5b9bd5" stroke-width="1.0"/>
<path d="M419.10 259.00 L411.47 266.03 M422.50 259.00 L430.13 266.03" fill="none" stroke="#5b9bd5" stroke-width="1.0"/>
<rect x="418.80" y="244.70" width="4.00" height="14.90" fill="#5b9bd5"/>
<circle cx="454.30" cy="270.60" r="7.80" fill="none" stroke="#c6c88e" stroke-width="0.9"/>
<path d="M447.29 267.18 A7.80 7.80 0 0 1 461.31 267.18" fill="none" stroke="#333" stroke-width="1.7"/>
<path d="M448.50 239.90 L452.60 245.30 M460.10 239.90 L456.00 245.30" fill="none" stroke="#5b9bd5" stroke-width="1.0"/>
<path d="M452.60 259.00 L447.89 266.58 M456.00 259.00 L460.71 266.58" fill="none" stroke="#5b9bd5" stroke-width="1.0"/>
<rect x="452.30" y="244.70" width="4.00" height="14.90" fill="#5b9bd5"/>
<text x="448.00" y="286.77" font-size="6.3" textLength="42.80" lengthAdjust="spacingAndGlyphs">Partial genome</text>
<text x="448.00" y="294.77" font-size="6.3" textLength="46.50" lengthAdjust="spacingAndGlyphs">(lacking <tspan font-style="italic">EBNA1</tspan>)</text>
<text x="394.30" y="306.47" font-size="6.3" textLength="53.20" lengthAdjust="spacingAndGlyphs">Complete genome</text>
<text x="264.20" y="331.80" font-size="11.4" font-weight="bold" fill="#000" stroke="#000" stroke-width="0.45">G</text>
<text x="275.80" y="340.77" font-size="6.3" textLength="39.70" lengthAdjust="spacingAndGlyphs">UPN1301 (HL)</text>
<text x="275.80" y="348.47" font-size="6.3" textLength="39.70" lengthAdjust="spacingAndGlyphs">UPN1306 (HL)</text>
<line x1="275.80" y1="353.00" x2="386.50" y2="353.00" stroke="#222" stroke-width="1.6"/>
<line x1="406.20" y1="353.00" x2="471.80" y2="353.00" stroke="#222" stroke-width="1.6"/>
<rect x="387.30" y="352.20" width="1.90" height="1.60" fill="#222"/>
<rect x="391.00" y="352.20" width="1.90" height="1.60" fill="#222"/>
<rect x="394.80" y="352.20" width="1.90" height="1.60" fill="#222"/>
<rect x="398.70" y="352.20" width="1.90" height="1.60" fill="#222"/>
<rect x="402.70" y="352.20" width="1.90" height="1.60" fill="#222"/>
<circle cx="305.30" cy="394.30" r="16.90" fill="none" stroke="#c6c88e" stroke-width="0.9"/>
<path d="M317.25 406.25 A16.90 16.90 0 0 1 301.50 410.77" fill="none" stroke="#5b9bd5" stroke-width="1.4"/>
<path d="M295.37 380.63 A16.90 16.90 0 0 1 315.23 380.63" fill="none" stroke="#333" stroke-width="1.7"/>
<path d="M298.50 353.30 L303.65 358.60 M312.10 353.30 L306.95 358.60" fill="none" stroke="#5b9bd5" stroke-width="1.0"/>
<path d="M303.65 372.80 L295.97 380.03 M306.95 372.80 L314.63 380.03" fill="none" stroke="#5b9bd5" stroke-width="1.0"/>
<rect x="303.35" y="358.00" width="3.90" height="15.40" fill="#5b9bd5"/>
<circle cx="339.40" cy="388.20" r="11.90" fill="none" stroke="#c6c88e" stroke-width="0.9"/>
<path d="M328.89 382.61 A11.90 11.90 0 0 1 349.91 382.61" fill="none" stroke="#333" stroke-width="1.7"/>
<path d="M332.80 353.30 L337.95 358.60 M346.00 353.30 L340.85 358.60" fill="none" stroke="#5b9bd5" stroke-width="1.0"/>
<path d="M337.95 372.60 L329.49 382.01 M340.85 372.60 L349.31 382.01" fill="none" stroke="#5b9bd5" stroke-width="1.0"/>
<rect x="337.65" y="358.00" width="3.50" height="15.20" fill="#5b9bd5"/>
<circle cx="368.10" cy="388.20" r="11.90" fill="none" stroke="#c6c88e" stroke-width="0.9"/>
<path d="M357.59 382.61 A11.90 11.90 0 0 1 378.61 382.61" fill="none" stroke="#333" stroke-width="1.7"/>
<path d="M361.50 353.30 L366.65 358.60 M374.70 353.30 L369.55 358.60" fill="none" stroke="#5b9bd5" stroke-width="1.0"/>
<path d="M366.65 372.60 L358.19 382.01 M369.55 372.60 L378.01 382.01" fill="none" stroke="#5b9bd5" stroke-width="1.0"/>
<rect x="366.35" y="358.00" width="3.50" height="15.20" fill="#5b9bd5"/>
<circle cx="423.60" cy="388.20" r="11.90" fill="none" stroke="#c6c88e" stroke-width="0.9"/>
<path d="M413.09 382.61 A11.90 11.90 0 0 1 434.11 382.61" fill="none" stroke="#333" stroke-width="1.7"/>
<path d="M417.00 353.30 L422.15 358.60 M430.20 353.30 L425.05 358.60" fill="none" stroke="#5b9bd5" stroke-width="1.0"/>
<path d="M422.15 372.60 L413.69 382.01 M425.05 372.60 L433.51 382.01" fill="none" stroke="#5b9bd5" stroke-width="1.0"/>
<rect x="421.85" y="358.00" width="3.50" height="15.20" fill="#5b9bd5"/>
<circle cx="453.10" cy="388.20" r="11.90" fill="none" stroke="#c6c88e" stroke-width="0.9"/>
<path d="M442.59 382.61 A11.90 11.90 0 0 1 463.61 382.61" fill="none" stroke="#333" stroke-width="1.7"/>
<path d="M446.50 353.30 L451.65 358.60 M459.70 353.30 L454.55 358.60" fill="none" stroke="#5b9bd5" stroke-width="1.0"/>
<path d="M451.65 372.60 L443.19 382.01 M454.55 372.60 L463.01 382.01" fill="none" stroke="#5b9bd5" stroke-width="1.0"/>
<rect x="451.35" y="358.00" width="3.50" height="15.20" fill="#5b9bd5"/>
<text x="371.80" y="409.47" font-size="6.3" textLength="46.20" lengthAdjust="spacingAndGlyphs">Partial genomes</text>
<text x="278.80" y="419.27" font-size="6.3" textLength="53.70" lengthAdjust="spacingAndGlyphs">Complete genome</text>
<text x="7.30" y="445.60" font-size="11.4" font-weight="bold" fill="#000" stroke="#000" stroke-width="0.45">H</text>
<line x1="91.90" y1="458.40" x2="91.90" y2="562.40" stroke="#a3a9b5" stroke-width="0.9"/>
<line x1="94.75" y1="458.40" x2="94.75" y2="562.40" stroke="#e6d6d6" stroke-width="0.6" stroke-dasharray="2.4 0.6"/>
<line x1="97.35" y1="458.40" x2="97.35" y2="562.40" stroke="#e6d6d6" stroke-width="0.6" stroke-dasharray="2.4 0.6"/>
<line x1="99.95" y1="458.40" x2="99.95" y2="562.40" stroke="#e6d6d6" stroke-width="0.6" stroke-dasharray="2.4 0.6"/>
<line x1="102.55" y1="458.40" x2="102.55" y2="562.40" stroke="#e6d6d6" stroke-width="0.6" stroke-dasharray="2.4 0.6"/>
<line x1="105.15" y1="458.40" x2="105.15" y2="562.40" stroke="#e6d6d6" stroke-width="0.6" stroke-dasharray="2.4 0.6"/>
<line x1="107.75" y1="458.40" x2="107.75" y2="562.40" stroke="#e6d6d6" stroke-width="0.6" stroke-dasharray="2.4 0.6"/>
<line x1="110.35" y1="458.40" x2="110.35" y2="562.40" stroke="#e6d6d6" stroke-width="0.6" stroke-dasharray="2.4 0.6"/>
<line x1="112.95" y1="458.40" x2="112.95" y2="562.40" stroke="#e6d6d6" stroke-width="0.6" stroke-dasharray="2.4 0.6"/>
<line x1="115.55" y1="458.40" x2="115.55" y2="562.40" stroke="#e6d6d6" stroke-width="0.6" stroke-dasharray="2.4 0.6"/>
<line x1="117.50" y1="458.40" x2="117.50" y2="562.40" stroke="#8c8c8c" stroke-width="1.0"/>
<line x1="161.60" y1="458.40" x2="161.60" y2="562.40" stroke="#b6b6b6" stroke-width="1.5"/>
<line x1="164.20" y1="458.40" x2="164.20" y2="562.40" stroke="#b6b6b6" stroke-width="1.5"/>
<line x1="166.70" y1="458.40" x2="166.70" y2="562.40" stroke="#b6b6b6" stroke-width="1.5"/>
<line x1="169.00" y1="458.40" x2="169.00" y2="562.40" stroke="#b6b6b6" stroke-width="1.5"/>
<line x1="177.20" y1="458.40" x2="177.20" y2="562.40" stroke="#a3a3a3" stroke-width="1.2"/>
<text x="77.60" y="465.80" font-size="6.4" text-anchor="end" textLength="55.60" lengthAdjust="spacingAndGlyphs">UPN1213 (DLBCL)*</text>
<line x1="80.40" y1="463.60" x2="252.40" y2="463.60" stroke="#ee8088" stroke-width="0.9"/>
<text x="77.60" y="474.40" font-size="6.4" text-anchor="end" textLength="41.40" lengthAdjust="spacingAndGlyphs">GK_BL60 (BL)*</text>
<line x1="80.40" y1="472.20" x2="252.40" y2="472.20" stroke="#b4b0cc" stroke-width="0.8"/>
<text x="77.60" y="483.00" font-size="6.4" text-anchor="end" textLength="55.60" lengthAdjust="spacingAndGlyphs">UPN1218 (DLBCL)*</text>
<line x1="80.40" y1="480.80" x2="252.40" y2="480.80" stroke="#f4a0a2" stroke-width="1.6"/>
<text x="77.60" y="491.60" font-size="6.4" text-anchor="end" textLength="70.60" lengthAdjust="spacingAndGlyphs">JM_NKTLY_96.1 (ENKL)*</text>
<line x1="80.40" y1="489.40" x2="252.40" y2="489.40" stroke="#f9c274" stroke-width="1.2"/>
<text x="77.60" y="500.20" font-size="6.4" text-anchor="end" textLength="30.60" lengthAdjust="spacingAndGlyphs">HL04 (HL)*</text>
<line x1="80.40" y1="498.00" x2="252.40" y2="498.00" stroke="#f8c2c6" stroke-width="1.0"/>
<text x="77.60" y="508.80" font-size="6.4" text-anchor="end" textLength="48.40" lengthAdjust="spacingAndGlyphs">NPCT108 (NPC)*</text>
<line x1="80.40" y1="506.60" x2="252.40" y2="506.60" stroke="#5573d3" stroke-width="1.0"/>
<text x="77.60" y="517.40" font-size="6.4" text-anchor="end" textLength="59.60" lengthAdjust="spacingAndGlyphs">SAMEA1709553 (BL)</text>
<line x1="80.40" y1="515.20" x2="252.40" y2="515.20" stroke="#f2a5ae" stroke-width="0.9"/>
<text x="77.60" y="526.00" font-size="6.4" text-anchor="end" textLength="52.60" lengthAdjust="spacingAndGlyphs">UPN1225 (DLBCL)</text>
<line x1="80.40" y1="523.80" x2="252.40" y2="523.80" stroke="#ee8088" stroke-width="1.0"/>
<text x="77.60" y="534.60" font-size="6.4" text-anchor="end" textLength="52.60" lengthAdjust="spacingAndGlyphs">UPN2723 (DLBCL)</text>
<line x1="80.40" y1="532.40" x2="252.40" y2="532.40" stroke="#ee8088" stroke-width="1.0"/>
<text x="77.60" y="543.20" font-size="6.4" text-anchor="end" textLength="68.00" lengthAdjust="spacingAndGlyphs">JM_NKTLY_97.1 (ENKL)</text>
<line x1="80.40" y1="541.00" x2="252.40" y2="541.00" stroke="#f9c274" stroke-width="1.3"/>
<text x="77.60" y="551.80" font-size="6.4" text-anchor="end" textLength="52.60" lengthAdjust="spacingAndGlyphs">UPN1005 (DLBCL)</text>
<line x1="80.40" y1="549.60" x2="252.40" y2="549.60" stroke="#ee8088" stroke-width="1.0"/>
<text x="77.60" y="560.40" font-size="6.4" text-anchor="end" textLength="50.00" lengthAdjust="spacingAndGlyphs">UPN326 (CAEBV)</text>
<line x1="80.40" y1="558.20" x2="252.40" y2="558.20" stroke="#66cf9c" stroke-width="1.3"/>
<path d="M81.80 463.60 A6.00 4.40 0 0 1 93.80 463.60" fill="none" stroke="#c9444f" stroke-width="1.0"/>
<path d="M91.00 472.20 L92.30 468.20 Q92.85 466.90 93.40 468.20 L94.70 472.20" fill="none" stroke="#8f8fc6" stroke-width="0.8"/>
<path d="M244.60 472.20 L245.30 468.50 Q245.70 467.20 246.10 468.50 L246.80 472.20" fill="none" stroke="#a9a3d6" stroke-width="0.7"/>
<path d="M113.00 480.80 A45.00 5.80 0 0 1 203.00 480.80" fill="none" stroke="#d9505c" stroke-width="0.8"/>
<path d="M80.80 489.40 A31.30 4.40 0 0 1 143.40 489.40" fill="none" stroke="#f2a542" stroke-width="0.9"/>
<path d="M128.60 498.00 A41.90 4.50 0 0 1 212.40 498.00" fill="none" stroke="#ee9096" stroke-width="0.8"/>
<path d="M146.80 506.60 A36.30 4.70 0 0 1 219.40 506.60" fill="none" stroke="#3f5fc8" stroke-width="0.9"/>
<path d="M88.20 515.20 L89.16 511.50 Q89.70 510.20 90.24 511.50 L91.20 515.20" fill="none" stroke="#a9a3d6" stroke-width="0.7"/>
<path d="M179.60 523.80 A18.50 4.60 0 0 1 216.60 523.80" fill="none" stroke="#d9505c" stroke-width="0.8"/>
<path d="M183.5 532.40 L185.2 528.00 L187 532.40" fill="none" stroke="#d9505c" stroke-width="0.8"/>
<path d="M187.00 532.40 A23.35 4.10 0 0 1 233.70 532.40" fill="none" stroke="#d9505c" stroke-width="0.8"/>
<path d="M186.40 541.00 A10.40 4.20 0 0 1 207.20 541.00" fill="none" stroke="#f6a93b" stroke-width="1.5"/>
<path d="M186.40 541.00 A18.20 4.30 0 0 1 222.80 541.00" fill="none" stroke="#f4b057" stroke-width="0.7"/>
<path d="M202.90 549.60 A16.85 4.10 0 0 1 236.60 549.60" fill="none" stroke="#d9505c" stroke-width="0.8"/>
<line x1="236.80" y1="546.00" x2="236.80" y2="549.60" stroke="#d9363e" stroke-width="1.2"/>
<path d="M239.20 558.20 A4.80 4.70 0 0 1 248.80 558.20" fill="none" stroke="#2f9f62" stroke-width="0.9"/>
<rect x="80.60" y="563.30" width="5.20" height="2.50" fill="#3fae8c"/>
<rect x="85.80" y="563.30" width="1.70" height="2.50" fill="#8fd6b8"/>
<rect x="87.50" y="563.30" width="2.60" height="2.50" fill="#2e2e2e"/>
<rect x="90.10" y="563.30" width="1.90" height="2.50" fill="#9adcc0"/>
<rect x="92.60" y="563.30" width="1.60" height="2.50" fill="#74cfa4"/>
<rect x="95.20" y="563.30" width="1.60" height="2.50" fill="#74cfa4"/>
<rect x="97.80" y="563.30" width="1.60" height="2.50" fill="#74cfa4"/>
<rect x="100.40" y="563.30" width="1.60" height="2.50" fill="#74cfa4"/>
<rect x="103.00" y="563.30" width="1.60" height="2.50" fill="#74cfa4"/>
<rect x="105.60" y="563.30" width="1.60" height="2.50" fill="#74cfa4"/>
<rect x="108.20" y="563.30" width="1.60" height="2.50" fill="#74cfa4"/>
<rect x="110.80" y="563.30" width="1.60" height="2.50" fill="#74cfa4"/>
<rect x="113.40" y="563.30" width="1.60" height="2.50" fill="#74cfa4"/>
<rect x="115.00" y="563.30" width="2.60" height="2.50" fill="#4a9a78"/>
<rect x="117.60" y="563.30" width="2.80" height="2.50" fill="#6f8f80"/>
<rect x="120.40" y="563.30" width="2.60" height="2.50" fill="#a48585"/>
<rect x="123.00" y="563.30" width="2.40" height="2.50" fill="#d96a5a"/>
<rect x="125.40" y="563.30" width="2.60" height="2.50" fill="#b08a80"/>
<rect x="128.00" y="563.30" width="5.00" height="2.50" fill="#3fbf7f"/>
<rect x="133.00" y="563.30" width="2.00" height="2.50" fill="#62c78f"/>
<rect x="135.00" y="563.30" width="5.00" height="2.50" fill="#3dbb7a"/>
<rect x="140.00" y="563.30" width="4.60" height="2.50" fill="#f0604a"/>
<rect x="144.60" y="563.30" width="6.10" height="2.50" fill="#41bd7c"/>
<rect x="150.70" y="563.30" width="2.70" height="2.50" fill="#ee6a50"/>
<rect x="153.40" y="563.30" width="2.50" height="2.50" fill="#f08f70"/>
<rect x="155.90" y="563.30" width="4.30" height="2.50" fill="#45be80"/>
<rect x="160.20" y="563.30" width="10.10" height="2.50" fill="#3f9fe0"/>
<rect x="170.30" y="563.30" width="3.50" height="2.50" fill="#233a30"/>
<rect x="173.80" y="563.30" width="5.20" height="2.50" fill="#3fbf7f"/>
<rect x="179.00" y="563.30" width="4.00" height="2.50" fill="#f0704a"/>
<rect x="183.00" y="563.30" width="2.40" height="2.50" fill="#f29a5a"/>
<rect x="185.40" y="563.30" width="3.10" height="2.50" fill="#ee6648"/>
<rect x="188.50" y="563.30" width="3.50" height="2.50" fill="#45bd80"/>
<rect x="192.00" y="563.30" width="5.00" height="2.50" fill="#f0604a"/>
<rect x="197.00" y="563.30" width="3.40" height="2.50" fill="#f2a04a"/>
<rect x="200.40" y="563.30" width="4.60" height="2.50" fill="#ee5f4a"/>
<rect x="205.00" y="563.30" width="2.60" height="2.50" fill="#f08a5a"/>
<rect x="207.60" y="563.30" width="3.40" height="2.50" fill="#ec5a48"/>
<rect x="211.00" y="563.30" width="3.00" height="2.50" fill="#52c08a"/>
<rect x="214.00" y="563.30" width="4.00" height="2.50" fill="#f09080"/>
<rect x="218.00" y="563.30" width="6.80" height="2.50" fill="#44347a"/>
<rect x="224.80" y="563.30" width="8.70" height="2.50" fill="#e022c0"/>
<rect x="233.50" y="563.30" width="3.50" height="2.50" fill="#f08a78"/>
<rect x="237.00" y="563.30" width="3.40" height="2.50" fill="#b5705a"/>
<rect x="240.40" y="563.30" width="3.50" height="2.50" fill="#f09a88"/>
<rect x="243.90" y="563.30" width="3.40" height="2.50" fill="#3fb8a8"/>
<rect x="248.20" y="563.30" width="2.00" height="2.50" fill="#46bcae"/>
<line x1="91.90" y1="571.30" x2="178.30" y2="571.30" stroke="#4fbcee" stroke-width="1.1"/>
<line x1="92.00" y1="569.30" x2="92.00" y2="573.30" stroke="#2f9fd6" stroke-width="1.0"/>
<rect x="176.30" y="569.10" width="2.00" height="4.40" fill="#2fa4e0"/>
<line x1="95.00" y1="570.40" x2="95.00" y2="572.20" stroke="#2f9fd6" stroke-width="0.5"/>
<line x1="97.60" y1="570.40" x2="97.60" y2="572.20" stroke="#2f9fd6" stroke-width="0.5"/>
<line x1="100.20" y1="570.40" x2="100.20" y2="572.20" stroke="#2f9fd6" stroke-width="0.5"/>
<line x1="102.80" y1="570.40" x2="102.80" y2="572.20" stroke="#2f9fd6" stroke-width="0.5"/>
<line x1="105.40" y1="570.40" x2="105.40" y2="572.20" stroke="#2f9fd6" stroke-width="0.5"/>
<line x1="108.00" y1="570.40" x2="108.00" y2="572.20" stroke="#2f9fd6" stroke-width="0.5"/>
<line x1="110.60" y1="570.40" x2="110.60" y2="572.20" stroke="#2f9fd6" stroke-width="0.5"/>
<line x1="113.20" y1="570.40" x2="113.20" y2="572.20" stroke="#2f9fd6" stroke-width="0.5"/>
<line x1="115.80" y1="570.40" x2="115.80" y2="572.20" stroke="#2f9fd6" stroke-width="0.5"/>
<line x1="131.00" y1="570.50" x2="131.00" y2="572.10" stroke="#2f9fd6" stroke-width="0.5"/>
<line x1="146.00" y1="570.50" x2="146.00" y2="572.10" stroke="#2f9fd6" stroke-width="0.5"/>
<text x="182.00" y="573.84" font-size="6.5" font-style="italic" textLength="19.30" lengthAdjust="spacingAndGlyphs">EBNA1</text>
<line x1="91.90" y1="578.40" x2="117.80" y2="578.40" stroke="#4fbcee" stroke-width="1.1"/>
<line x1="92.00" y1="576.40" x2="92.00" y2="580.40" stroke="#2f9fd6" stroke-width="1.0"/>
<rect x="116.80" y="576.20" width="1.00" height="4.40" fill="#2fa4e0"/>
<line x1="95.00" y1="577.50" x2="95.00" y2="579.30" stroke="#2f9fd6" stroke-width="0.5"/>
<line x1="97.60" y1="577.50" x2="97.60" y2="579.30" stroke="#2f9fd6" stroke-width="0.5"/>
<line x1="100.20" y1="577.50" x2="100.20" y2="579.30" stroke="#2f9fd6" stroke-width="0.5"/>
<line x1="102.80" y1="577.50" x2="102.80" y2="579.30" stroke="#2f9fd6" stroke-width="0.5"/>
<line x1="105.40" y1="577.50" x2="105.40" y2="579.30" stroke="#2f9fd6" stroke-width="0.5"/>
<line x1="108.00" y1="577.50" x2="108.00" y2="579.30" stroke="#2f9fd6" stroke-width="0.5"/>
<line x1="110.60" y1="577.50" x2="110.60" y2="579.30" stroke="#2f9fd6" stroke-width="0.5"/>
<line x1="113.20" y1="577.50" x2="113.20" y2="579.30" stroke="#2f9fd6" stroke-width="0.5"/>
<text x="121.20" y="580.94" font-size="6.5" font-style="italic" textLength="20.00" lengthAdjust="spacingAndGlyphs">EBNA2</text>
<line x1="91.90" y1="585.60" x2="163.00" y2="585.60" stroke="#4fbcee" stroke-width="1.1"/>
<line x1="92.00" y1="583.60" x2="92.00" y2="587.60" stroke="#2f9fd6" stroke-width="1.0"/>
<rect x="160.50" y="583.40" width="2.50" height="4.40" fill="#2fa4e0"/>
<line x1="95.00" y1="584.70" x2="95.00" y2="586.50" stroke="#2f9fd6" stroke-width="0.5"/>
<line x1="97.60" y1="584.70" x2="97.60" y2="586.50" stroke="#2f9fd6" stroke-width="0.5"/>
<line x1="100.20" y1="584.70" x2="100.20" y2="586.50" stroke="#2f9fd6" stroke-width="0.5"/>
<line x1="102.80" y1="584.70" x2="102.80" y2="586.50" stroke="#2f9fd6" stroke-width="0.5"/>
<line x1="105.40" y1="584.70" x2="105.40" y2="586.50" stroke="#2f9fd6" stroke-width="0.5"/>
<line x1="108.00" y1="584.70" x2="108.00" y2="586.50" stroke="#2f9fd6" stroke-width="0.5"/>
<line x1="110.60" y1="584.70" x2="110.60" y2="586.50" stroke="#2f9fd6" stroke-width="0.5"/>
<line x1="113.20" y1="584.70" x2="113.20" y2="586.50" stroke="#2f9fd6" stroke-width="0.5"/>
<line x1="115.80" y1="584.70" x2="115.80" y2="586.50" stroke="#2f9fd6" stroke-width="0.5"/>
<line x1="131.00" y1="584.80" x2="131.00" y2="586.40" stroke="#2f9fd6" stroke-width="0.5"/>
<line x1="146.00" y1="584.80" x2="146.00" y2="586.40" stroke="#2f9fd6" stroke-width="0.5"/>
<text x="166.20" y="588.14" font-size="6.5" font-style="italic" textLength="24.50" lengthAdjust="spacingAndGlyphs">EBNA3A</text>
<line x1="91.90" y1="593.00" x2="165.80" y2="593.00" stroke="#4fbcee" stroke-width="1.1"/>
<line x1="92.00" y1="591.00" x2="92.00" y2="595.00" stroke="#2f9fd6" stroke-width="1.0"/>
<rect x="163.30" y="590.80" width="2.50" height="4.40" fill="#2fa4e0"/>
<line x1="95.00" y1="592.10" x2="95.00" y2="593.90" stroke="#2f9fd6" stroke-width="0.5"/>
<line x1="97.60" y1="592.10" x2="97.60" y2="593.90" stroke="#2f9fd6" stroke-width="0.5"/>
<line x1="100.20" y1="592.10" x2="100.20" y2="593.90" stroke="#2f9fd6" stroke-width="0.5"/>
<line x1="102.80" y1="592.10" x2="102.80" y2="593.90" stroke="#2f9fd6" stroke-width="0.5"/>
<line x1="105.40" y1="592.10" x2="105.40" y2="593.90" stroke="#2f9fd6" stroke-width="0.5"/>
<line x1="108.00" y1="592.10" x2="108.00" y2="593.90" stroke="#2f9fd6" stroke-width="0.5"/>
<line x1="110.60" y1="592.10" x2="110.60" y2="593.90" stroke="#2f9fd6" stroke-width="0.5"/>
<line x1="113.20" y1="592.10" x2="113.20" y2="593.90" stroke="#2f9fd6" stroke-width="0.5"/>
<line x1="115.80" y1="592.10" x2="115.80" y2="593.90" stroke="#2f9fd6" stroke-width="0.5"/>
<line x1="131.00" y1="592.20" x2="131.00" y2="593.80" stroke="#2f9fd6" stroke-width="0.5"/>
<line x1="146.00" y1="592.20" x2="146.00" y2="593.80" stroke="#2f9fd6" stroke-width="0.5"/>
<text x="169.30" y="595.54" font-size="6.5" font-style="italic" textLength="25.00" lengthAdjust="spacingAndGlyphs">EBNA3B</text>
<line x1="91.90" y1="600.50" x2="169.30" y2="600.50" stroke="#4fbcee" stroke-width="1.1"/>
<line x1="92.00" y1="598.50" x2="92.00" y2="602.50" stroke="#2f9fd6" stroke-width="1.0"/>
<rect x="166.80" y="598.30" width="2.50" height="4.40" fill="#2fa4e0"/>
<line x1="95.00" y1="599.60" x2="95.00" y2="601.40" stroke="#2f9fd6" stroke-width="0.5"/>
<line x1="97.60" y1="599.60" x2="97.60" y2="601.40" stroke="#2f9fd6" stroke-width="0.5"/>
<line x1="100.20" y1="599.60" x2="100.20" y2="601.40" stroke="#2f9fd6" stroke-width="0.5"/>
<line x1="102.80" y1="599.60" x2="102.80" y2="601.40" stroke="#2f9fd6" stroke-width="0.5"/>
<line x1="105.40" y1="599.60" x2="105.40" y2="601.40" stroke="#2f9fd6" stroke-width="0.5"/>
<line x1="108.00" y1="599.60" x2="108.00" y2="601.40" stroke="#2f9fd6" stroke-width="0.5"/>
<line x1="110.60" y1="599.60" x2="110.60" y2="601.40" stroke="#2f9fd6" stroke-width="0.5"/>
<line x1="113.20" y1="599.60" x2="113.20" y2="601.40" stroke="#2f9fd6" stroke-width="0.5"/>
<line x1="115.80" y1="599.60" x2="115.80" y2="601.40" stroke="#2f9fd6" stroke-width="0.5"/>
<line x1="131.00" y1="599.70" x2="131.00" y2="601.30" stroke="#2f9fd6" stroke-width="0.5"/>
<line x1="146.00" y1="599.70" x2="146.00" y2="601.30" stroke="#2f9fd6" stroke-width="0.5"/>
<text x="172.60" y="603.04" font-size="6.5" font-style="italic" textLength="25.00" lengthAdjust="spacingAndGlyphs">EBNA3C</text>
<line x1="93.80" y1="604.30" x2="116.80" y2="604.30" stroke="#8a8a8a" stroke-width="0.7"/>
<line x1="92.10" y1="606.20" x2="92.10" y2="612.20" stroke="#8a8a8a" stroke-width="1.0"/>
<text x="95.50" y="611.24" font-size="6.5" font-style="italic" textLength="22.00" lengthAdjust="spacingAndGlyphs">EBNALP</text>
<text x="90.00" y="620.74" font-size="6.5" textLength="32.50" lengthAdjust="spacingAndGlyphs">C promoter</text>
<text x="264.60" y="445.60" font-size="11.4" font-weight="bold" fill="#000" stroke="#000" stroke-width="0.45">I</text>
<text x="264.50" y="456.77" font-size="6.3" textLength="39.30" lengthAdjust="spacingAndGlyphs">GK_BL29 (BL)</text>
<rect x="320.00" y="464.30" width="131.30" height="12.20" fill="#8064a2"/>
<line x1="308.80" y1="476.50" x2="463.80" y2="476.50" stroke="#241a38" stroke-width="1.2"/>
<text x="283.00" y="473.07" font-size="6.3" textLength="29.50" lengthAdjust="spacingAndGlyphs">(unsolved)</text>
<line x1="319.40" y1="470.60" x2="315.80" y2="470.60" stroke="#1a1a1a" stroke-width="0.7"/>
<path d="M315.20 470.60 l2.00 -1.3 v2.6 z" fill="#1a1a1a"/>
<line x1="452.20" y1="470.60" x2="455.80" y2="470.60" stroke="#1a1a1a" stroke-width="0.7"/>
<path d="M456.40 470.60 l-2.00 -1.3 v2.6 z" fill="#1a1a1a"/>
<text x="308.80" y="484.87" font-size="6.3" textLength="20.00" lengthAdjust="spacingAndGlyphs">12000*</text>
<text x="441.80" y="484.87" font-size="6.3" textLength="20.80" lengthAdjust="spacingAndGlyphs">155992</text>
<text x="459.30" y="467.27" font-size="6.3" textLength="46.20" lengthAdjust="spacingAndGlyphs">chr2:241493724</text>
<text x="459.30" y="474.87" font-size="6.3" textLength="54.50" lengthAdjust="spacingAndGlyphs">(<tspan font-style="italic">ANKMY1</tspan> intron 3)</text>
<text x="264.50" y="497.77" font-size="6.3" textLength="44.30" lengthAdjust="spacingAndGlyphs">GK_Farage (BL)</text>
<rect x="308.00" y="504.30" width="115.30" height="12.20" fill="#8064a2"/>
<rect x="439.30" y="504.30" width="26.50" height="12.20" fill="#8064a2"/>
<line x1="308.00" y1="516.50" x2="465.80" y2="516.50" stroke="#241a38" stroke-width="1.2"/>
<text x="421.30" y="497.77" font-size="6.3" textLength="27.50" lengthAdjust="spacingAndGlyphs">IGH locus</text>
<line x1="424.90" y1="501.00" x2="424.90" y2="508.70" stroke="#1a1a1a" stroke-width="0.8" stroke-dasharray="3.2 1.1"/>
<line x1="424.90" y1="510.30" x2="426.90" y2="510.30" stroke="#1a1a1a" stroke-width="0.7"/>
<path d="M428.30 510.30 l-2.00 -1.2 v2.4 z" fill="#1a1a1a"/>
<line x1="437.60" y1="501.00" x2="437.60" y2="508.70" stroke="#1a1a1a" stroke-width="0.8" stroke-dasharray="3.2 1.1"/>
<line x1="437.60" y1="510.30" x2="435.60" y2="510.30" stroke="#1a1a1a" stroke-width="0.7"/>
<path d="M434.20 510.30 l2.00 -1.2 v2.4 z" fill="#1a1a1a"/>
<text x="408.00" y="525.27" font-size="6.3" textLength="20.30" lengthAdjust="spacingAndGlyphs">134488</text>
<text x="433.30" y="525.27" font-size="6.3" textLength="20.50" lengthAdjust="spacingAndGlyphs">139544</text>
<text x="264.50" y="536.57" font-size="6.3" textLength="38.80" lengthAdjust="spacingAndGlyphs">Namalwa (BL)</text>
<text x="264.50" y="546.77" font-size="6.3" textLength="42.30" lengthAdjust="spacingAndGlyphs">chr1:40017230</text>
<text x="264.50" y="554.27" font-size="6.3" textLength="43.00" lengthAdjust="spacingAndGlyphs">(<tspan font-style="italic">PPIEL</tspan> intron 4)</text>
<rect x="316.30" y="543.80" width="148.70" height="12.40" fill="#8064a2"/>
<line x1="307.50" y1="556.30" x2="465.00" y2="556.30" stroke="#241a38" stroke-width="1.2"/>
<line x1="315.40" y1="550.00" x2="311.80" y2="550.00" stroke="#1a1a1a" stroke-width="0.7"/>
<path d="M311.20 550.00 l2.00 -1.3 v2.6 z" fill="#1a1a1a"/>
<line x1="466.00" y1="550.00" x2="469.60" y2="550.00" stroke="#1a1a1a" stroke-width="0.7"/>
<path d="M470.20 550.00 l-2.00 -1.3 v2.6 z" fill="#1a1a1a"/>
<text x="473.00" y="552.47" font-size="6.3" textLength="28.80" lengthAdjust="spacingAndGlyphs">(unsolved)</text>
<text x="308.00" y="565.57" font-size="6.3" textLength="14.50" lengthAdjust="spacingAndGlyphs">8087</text>
<text x="264.50" y="577.27" font-size="6.3" textLength="59.30" lengthAdjust="spacingAndGlyphs">eBL-Tumor-0031 (BL)</text>
<text x="358.80" y="577.27" font-size="6.3" textLength="45.50" lengthAdjust="spacingAndGlyphs">chr12:85051144</text>
<text x="415.50" y="577.27" font-size="6.3" textLength="45.80" lengthAdjust="spacingAndGlyphs">chr12:85148475</text>
<rect x="308.20" y="583.80" width="91.80" height="12.00" fill="#8064a2"/>
<rect x="420.00" y="583.80" width="45.80" height="12.00" fill="#8064a2"/>
<line x1="308.20" y1="595.90" x2="465.80" y2="595.90" stroke="#241a38" stroke-width="1.2"/>
<line x1="402.70" y1="580.80" x2="402.70" y2="588.20" stroke="#1a1a1a" stroke-width="0.8" stroke-dasharray="3.2 1.1"/>
<line x1="402.70" y1="589.80" x2="404.70" y2="589.80" stroke="#1a1a1a" stroke-width="0.7"/>
<path d="M406.10 589.80 l-2.00 -1.2 v2.4 z" fill="#1a1a1a"/>
<line x1="417.30" y1="580.80" x2="417.30" y2="588.20" stroke="#1a1a1a" stroke-width="0.8" stroke-dasharray="3.2 1.1"/>
<line x1="417.30" y1="589.80" x2="415.30" y2="589.80" stroke="#1a1a1a" stroke-width="0.7"/>
<path d="M413.90 589.80 l2.00 -1.2 v2.4 z" fill="#1a1a1a"/>
<text x="387.00" y="604.87" font-size="6.3" textLength="20.50" lengthAdjust="spacingAndGlyphs">100900</text>
<text x="411.30" y="604.87" font-size="6.3" textLength="20.50" lengthAdjust="spacingAndGlyphs">120493</text>
<rect x="0.5" y="0.5" width="519" height="628" fill="none" stroke="#3a3a3a" stroke-width="1"/>
</svg>
</body></html>
